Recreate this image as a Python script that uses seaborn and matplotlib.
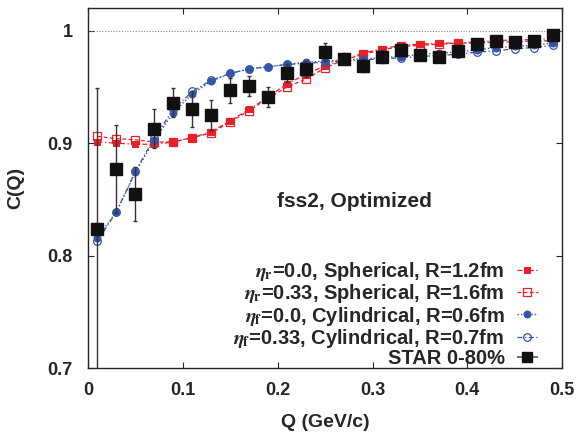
import numpy as np
import matplotlib
matplotlib.use("Agg")
import matplotlib.pyplot as plt
import seaborn as sns

q = [0.01, 0.03, 0.05, 0.07, 0.09, 0.11, 0.13, 0.15, 0.17, 0.19, 0.21, 0.23, 0.25,
     0.27, 0.29, 0.31, 0.33, 0.35, 0.37, 0.39, 0.41, 0.43, 0.45, 0.47, 0.49]

sph_00 = [0.901, 0.900, 0.899, 0.899, 0.901, 0.905, 0.910, 0.920, 0.930, 0.941, 0.953,
          0.961, 0.969, 0.974, 0.980, 0.984, 0.987, 0.988, 0.989, 0.989, 0.990, 0.991,
          0.992, 0.992, 0.993]
sph_33 = [0.906, 0.904, 0.903, 0.901, 0.901, 0.905, 0.909, 0.919, 0.929, 0.940, 0.950,
          0.957, 0.967, 0.974, 0.979, 0.983, 0.986, 0.987, 0.988, 0.989, 0.989, 0.990,
          0.990, 0.991, 0.991]
cyl_00 = [0.816, 0.839, 0.874, 0.903, 0.927, 0.944, 0.955, 0.962, 0.966, 0.968, 0.970,
          0.972, 0.973, 0.974, 0.975, 0.976, 0.977, 0.979, 0.980, 0.981, 0.983, 0.985,
          0.986, 0.987, 0.989]
cyl_33 = [0.813, 0.839, 0.875, 0.905, 0.930, 0.946, 0.956, 0.962, 0.966, 0.968, 0.970,
          0.971, 0.972, 0.973, 0.974, 0.975, 0.976, 0.977, 0.978, 0.979, 0.981, 0.982,
          0.984, 0.985, 0.987]
star = [0.824, 0.877, 0.855, 0.913, 0.936, 0.930, 0.925, 0.947, 0.951, 0.941, 0.962,
        0.966, 0.981, 0.975, 0.969, 0.977, 0.983, 0.978, 0.977, 0.982, 0.988, 0.991,
        0.990, 0.991, 0.996]
star_err = [0.125, 0.039, 0.024, 0.017, 0.013, 0.016, 0.013, 0.011, 0.009, 0.009, 0.008,
            0.007, 0.008, 0.005, 0.006, 0.006, 0.005, 0.004, 0.004, 0.004, 0.004, 0.004,
            0.003, 0.003, 0.003]

labels = [r'$\eta_{\mathbf{r}}$=0.0, Spherical, R=1.2fm',
          r'$\eta_{\mathbf{r}}$=0.33, Spherical, R=1.6fm',
          r'$\eta_{\mathbf{f}}$=0.0, Cylindrical, R=0.6fm',
          r'$\eta_{\mathbf{f}}$=0.33, Cylindrical, R=0.7fm',
          'STAR 0-80%']

sns.set_style("ticks")
plt.rcParams['font.family'] = ['Liberation Sans', 'DejaVu Sans']
plt.rcParams['font.weight'] = 'bold'
plt.rcParams['mathtext.fontset'] = 'stix'

RED = '#e8202a'
BLUE = '#3556a8'

fig = plt.figure(figsize=(5.79, 4.32), dpi=100)
ax = fig.add_axes([0.152, 0.148, 0.819, 0.833])

ax.axhline(1.0, color='#888888', lw=0.8, ls=(0, (1, 1.5)), zorder=1)

sns.lineplot(x=q, y=sph_00, ax=ax, color=RED, marker='s', markersize=5,
             markeredgecolor=RED, linestyle=(0, (4, 2, 1, 2)), lw=0.9, label=labels[0])
sns.lineplot(x=q, y=sph_33, ax=ax, color=RED, marker='s', markersize=5.5,
             markerfacecolor='none', markeredgecolor=RED, markeredgewidth=0.9,
             linestyle=(0, (3, 2)), lw=0.9, label=labels[1])
sns.lineplot(x=q, y=cyl_00, ax=ax, color=BLUE, marker='o', markersize=5,
             markeredgecolor=BLUE, linestyle=(0, (1, 1.5)), lw=1.0, label=labels[2])
sns.lineplot(x=q, y=cyl_33, ax=ax, color=BLUE, marker='o', markersize=5.5,
             markerfacecolor='none', markeredgecolor=BLUE, markeredgewidth=0.9,
             linestyle=(0, (4, 2, 1, 2)), lw=0.9, label=labels[3])
ax.errorbar(q, star, yerr=star_err, fmt='s', color='#111111', ecolor='#333333',
            markersize=8.5, elinewidth=1.0, capsize=1.5, lw=0.8, zorder=5)
# legend proxy with horizontal bar and end caps
star_proxy = ax.errorbar([], [], xerr=[], fmt='s', color='#111111', ecolor='#555555',
                         markersize=7.5, elinewidth=1.2, capsize=3, capthick=1.0)

ax.set_xlim(0, 0.5)
ax.set_ylim(0.7, 1.02)
ax.set_xticks([0, 0.1, 0.2, 0.3, 0.4, 0.5])
ax.set_xticklabels(['0', '0.1', '0.2', '0.3', '0.4', '0.5'])
ax.set_yticks([0.7, 0.8, 0.9, 1.0])
ax.set_yticklabels(['0.7', '0.8', '0.9', '1'])
ax.tick_params(axis='x', direction='in', top=True, length=4, width=0.8,
               labelsize=13, pad=10)
ax.tick_params(axis='y', direction='in', right=True, length=4, width=0.8,
               labelsize=13, pad=11)
for s in ax.spines.values():
    s.set_linewidth(1.0)
    s.set_visible(True)

ax.set_xlabel('Q (GeV/c)', fontsize=14, fontweight='bold', labelpad=11)
ax.set_ylabel('C(Q)', fontsize=14, fontweight='bold', labelpad=17)

ax.text(0.281, 0.848, 'fss2, Optimized', fontsize=15, fontweight='bold',
        ha='center', va='center')

handles, _ = ax.get_legend_handles_labels()
handles = list(handles[:4]) + [star_proxy]
leg = ax.legend(handles, labels, loc='lower right', bbox_to_anchor=(0.966, -0.022),
                frameon=False, markerfirst=False,
                fontsize=14.5, handlelength=1.05, handletextpad=0.6,
                labelspacing=-0.04, borderaxespad=0.0)
for t in leg.get_texts():
    t.set_ha('right')
    t.set_fontweight('bold')
leg._legend_box.align = 'right'

fig.savefig('out.png', dpi=100)
